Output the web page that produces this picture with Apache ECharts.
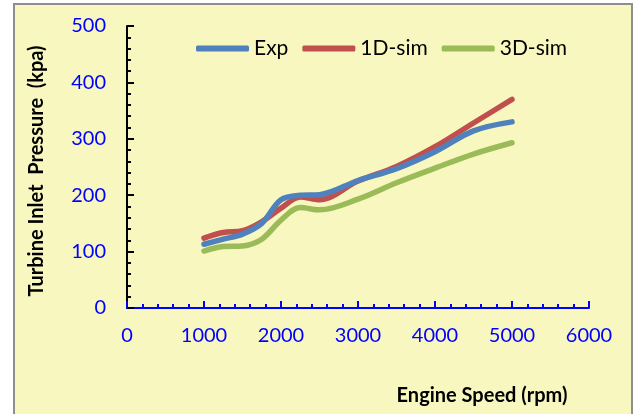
<!DOCTYPE html>
<html>
<head>
<meta charset="utf-8">
<script src="https://cdn.jsdelivr.net/npm/echarts@6/dist/echarts.min.js"></script>
<style>
  html, body { margin: 0; padding: 0; background: #ffffff; }
  #chart { width: 635px; height: 414px; }
</style>
</head>
<body>
<div id="chart"></div>
<script>
// Engine speed (rpm) at which each pressure was taken
const engineSpeed = [1000, 1250, 1500, 1750, 2000, 2250, 2500, 3000, 3500, 4000, 4500, 5000];

// Turbine inlet pressure (kPa)
const expPressure   = [113, 122, 131, 150, 192, 200, 201, 226, 247, 277, 314, 330];
const sim1dPressure = [124, 134, 137, 153, 177, 197, 192, 225, 251, 286, 328, 370];
const sim3dPressure = [101, 109, 110, 122, 156, 178, 174, 193, 222, 248, 273, 293];

const seriesNames = ['Exp', '1D-sim', '3D-sim'];
const seriesColors = ['#4F81BD', '#C0504D', '#9BBB59'];

const yTicks = [0, 100, 200, 300, 400, 500];
const xTicks = [0, 1000, 2000, 3000, 4000, 5000, 6000];

const xTitle = 'Engine Speed (rpm)';
const yTitle = 'Turbine Inlet  Pressure  (kpa)';

const FONT = 'Lato, "Liberation Sans", sans-serif';

function pairs(values) {
  return engineSpeed.map((s, i) => [s, values[i]]);
}

const chart = echarts.init(document.getElementById('chart'), null, { renderer: 'canvas' });

const lineSeries = [expPressure, sim1dPressure, sim3dPressure].map((vals, i) => ({
  name: seriesNames[i],
  type: 'line',
  data: pairs(vals),
  smooth: 0.35,
  symbol: 'none',
  lineStyle: { color: seriesColors[i], width: 5.5, cap: 'round' },
  itemStyle: { color: seriesColors[i] },
  z: 3 - i
}));

chart.setOption({
  animation: false,
  backgroundColor: '#ffffff',
  graphic: [
    {
      type: 'rect',
      z: -10,
      shape: { x: 14, y: 4, width: 618, height: 420 },
      style: { fill: '#F7F7BF', stroke: '#8E8E8E', lineWidth: 2 }
    },
    {
      type: 'text',
      x: 37, y: 171,
      rotation: Math.PI / 2,
      style: {
        text: yTitle, fill: '#000000', font: 'bold 20px ' + FONT,
        align: 'center', verticalAlign: 'middle'
      }
    },
    {
      type: 'text',
      x: 482, y: 396,
      style: {
        text: xTitle, fill: '#000000', font: 'bold 20px ' + FONT,
        align: 'center', verticalAlign: 'middle'
      }
    }
  ],
  legend: {
    left: 191,
    top: 33,
    icon: 'roundRect',
    itemWidth: 53,
    itemHeight: 6,
    itemGap: 14,
    itemStyle: { borderWidth: 0 },
    textStyle: { color: '#000000', fontSize: 21, fontFamily: FONT },
    data: seriesNames
  },
  grid: { left: 127, right: 46, top: 26, bottom: 106, containLabel: false },
  xAxis: {
    type: 'value',
    min: xTicks[0],
    max: xTicks[xTicks.length - 1],
    interval: 1000,
    axisLine: { show: true, onZero: false, lineStyle: { color: '#0000FF', width: 2 } },
    axisTick: { show: true, inside: true, length: 7, lineStyle: { color: '#0000FF', width: 2 } },
    minorTick: { show: true, splitNumber: 5, length: 4, lineStyle: { color: '#0000FF', width: 2 } },
    splitLine: { show: false },
    axisLabel: {
      color: '#0000FF', fontSize: 20, fontFamily: FONT, margin: 18,
      formatter: v => String(v)
    }
  },
  yAxis: {
    type: 'value',
    min: yTicks[0],
    max: yTicks[yTicks.length - 1],
    interval: 100,
    axisLine: { show: true, lineStyle: { color: '#000000', width: 2 } },
    axisTick: { show: true, inside: true, length: 7, lineStyle: { color: '#000000', width: 2 } },
    minorTick: { show: true, splitNumber: 5, length: 4, lineStyle: { color: '#000000', width: 2 } },
    splitLine: { show: false },
    axisLabel: { color: '#0000FF', fontSize: 20, fontFamily: FONT, margin: 21 }
  },
  series: lineSeries
});
</script>
</body>
</html>
